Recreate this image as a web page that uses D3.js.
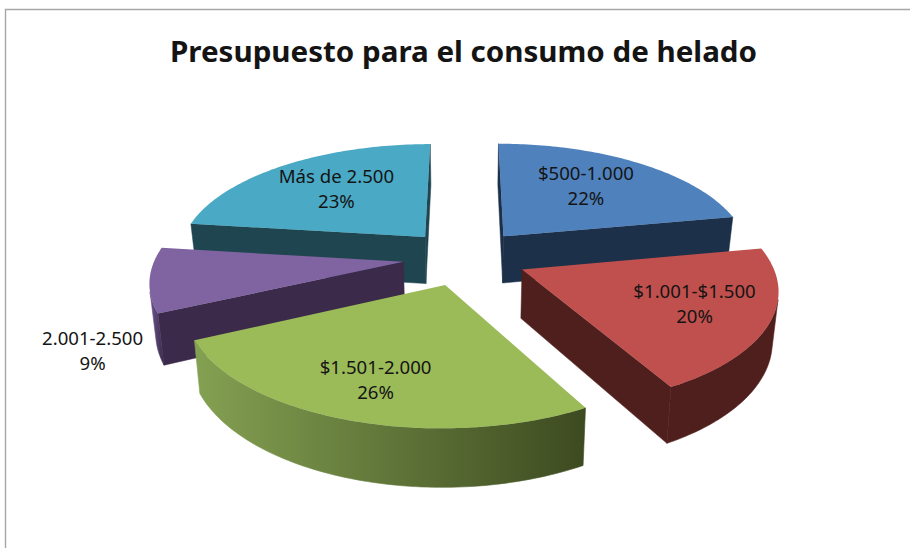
<!DOCTYPE html>
<html>
<head>
<meta charset="utf-8">
<style>
html,body{margin:0;padding:0;background:#fff;overflow:hidden}
svg{display:block}
text{font-family:"Noto Sans","Open Sans",sans-serif;fill:#141414}
</style>
<script src="https://cdnjs.cloudflare.com/ajax/libs/d3/7.8.5/d3.min.js"></script>
</head>
<body>
<svg id="c" width="910" height="548"></svg>
<script>
const chartTitle = "Presupuesto para el consumo de helado";
const categories = ["$500-1.000", "$1.001-$1.500", "$1.501-2.000", "2.001-2.500", "Más de 2.500"];
const values = [22, 20, 26, 9, 23];
const topColors = ["#4f81bd", "#c0504d", "#9bbb59", "#8064a2", "#4aa9c4"];
const wallColors = ["#1d3049", "#4f1f1d", "#3f4a20", "#3b2a4a", "#1f4550"];
const rimLeftColors = ["#1d3049", "#4f1f1d", "#84a152", "#6c5590", "#1f4550"];
const rimRightColors = ["#1d3049", "#4f1f1d", "#3d4a20", "#3b2a4a", "#1f4550"];
const labelRadiusShare = [0.62, 0.71, 0.75, 1.30, 0.61];
const labelAngleShift = [-2, 0, 0, -24.5, 0];

// Scene of the tilted, exploded pie
const W = 910, H = 548;
const cx = 465, cy = 257.4, radius = 248, explode = 62, thickness = 48;
const eyeDistance = 1650, horizonDrop = 748, depthShrink = 0.02;

const svg = d3.select("#c");
const defs = svg.append("defs");

svg.append("path")
  .attr("d", d3.line()([[5.5, H], [5.5, 9.5], [W, 9.5]]))
  .attr("fill", "none").attr("stroke", "#a6a6a6").attr("stroke-width", 1.4);

svg.append("text").attr("x", 463.5).attr("y", 62)
  .attr("text-anchor", "middle").attr("font-size", 28.5).attr("font-weight", 700)
  .attr("textLength", 587).attr("lengthAdjust", "spacingAndGlyphs")
  .text(chartTitle);

const arcs = d3.pie().sort(null).startAngle(0).endAngle(2 * Math.PI)(values);

function project(wx, wy, z) {
  const s = eyeDistance / (eyeDistance - wy);
  const shrink = 1 - depthShrink * z / thickness;
  return [cx + wx * s * shrink, cy + horizonDrop * (s - 1) + z * s];
}
function polar(mid, a, r, z) {
  const wx = explode * Math.sin(mid) + r * Math.sin(a);
  const wy = -explode * Math.cos(mid) - r * Math.cos(a);
  return project(wx, wy, z);
}
const toPath = d3.line();
const closed = pts => toPath(pts) + "Z";

const slices = arcs.map(d => ({
  i: d.index,
  a0: d.startAngle,
  a1: d.endAngle,
  mid: (d.startAngle + d.endAngle) / 2
})).map(s => Object.assign(s, {steps: d3.range(0, 81).map(k => s.a0 + (s.a1 - s.a0) * k / 80)}));

const order = slices.slice().sort((p, q) => d3.ascending(-Math.cos(p.mid), -Math.cos(q.mid)));

order.forEach(s => {
  const g = svg.append("g").attr("class", "slice");
  const apexT = polar(s.mid, 0, 0, 0), apexB = polar(s.mid, 0, 0, thickness);

  // walls: back-face culled by screen orientation
  [[s.a0, 1], [s.a1, -1]].forEach(([a, sign]) => {
    const poly = [apexT, polar(s.mid, a, radius, 0), polar(s.mid, a, radius, thickness), apexB];
    if (d3.polygonArea(poly) * sign > 0) {
      g.append("path").attr("d", closed(poly))
        .attr("fill", wallColors[s.i]).attr("stroke", wallColors[s.i]).attr("stroke-width", 0.5);
    }
  });

  // outer rim: only the part that faces the viewer
  const front = s.steps.filter((a, k) => {
    const nx = k < 80 ? s.steps[k + 1] : a;
    const pv = k < 80 ? a : s.steps[k - 1];
    const quad = [polar(s.mid, pv, radius, 0), polar(s.mid, nx, radius, 0),
                  polar(s.mid, nx, radius, thickness), polar(s.mid, pv, radius, thickness)];
    return d3.polygonArea(quad) > 0;
  });
  if (front.length > 1) {
    const upper = front.map(a => polar(s.mid, a, radius, 0));
    const lower = front.map(a => polar(s.mid, a, radius, thickness)).reverse();
    const rim = upper.concat(lower);
    const xs = d3.extent(rim, p => p[0]);
    const gid = "rim" + s.i;
    const lg = defs.append("linearGradient").attr("id", gid)
      .attr("gradientUnits", "userSpaceOnUse")
      .attr("x1", xs[0]).attr("x2", xs[1]).attr("y1", 0).attr("y2", 0);
    lg.append("stop").attr("offset", 0).attr("stop-color", rimLeftColors[s.i]);
    lg.append("stop").attr("offset", 1).attr("stop-color", rimRightColors[s.i]);
    g.append("path").attr("d", closed(rim)).attr("fill", `url(#${gid})`)
      .attr("stroke", `url(#${gid})`).attr("stroke-width", 0.6);
  }

  // top face
  const top = [apexT].concat(s.steps.map(a => polar(s.mid, a, radius, 0)));
  g.append("path").attr("d", closed(top)).attr("fill", topColors[s.i]);
});

// labels
const total = d3.sum(values);
const pct = d3.format(".0%");
slices.forEach(s => {
  const a = s.mid + labelAngleShift[s.i] * Math.PI / 180;
  const p = polar(s.mid, a, radius * labelRadiusShare[s.i], 0);
  const t = svg.append("text").attr("text-anchor", "middle").attr("font-size", 18.6);
  t.append("tspan").attr("x", p[0]).attr("y", p[1] - 8).text(categories[s.i]);
  t.append("tspan").attr("x", p[0]).attr("y", p[1] + 17).text(pct(values[s.i] / total));
});
</script>
</body>
</html>
